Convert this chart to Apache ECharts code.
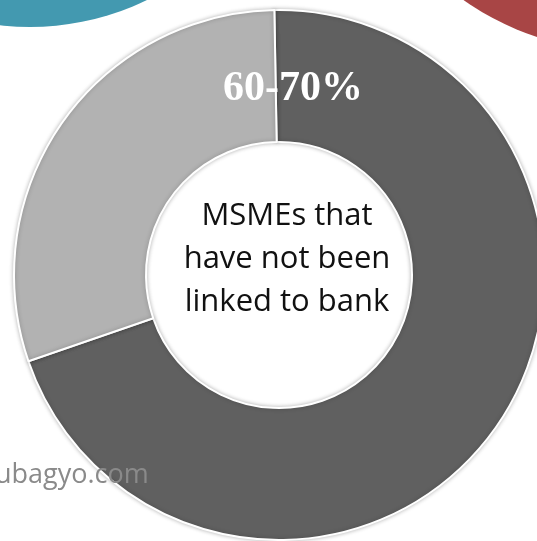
<!DOCTYPE html>
<html>
<head>
<meta charset="utf-8">
<script src="https://cdn.jsdelivr.net/npm/echarts@6/dist/echarts.min.js"></script>
<style>
  html, body { margin: 0; padding: 0; background: #ffffff; }
  #chart { width: 537px; height: 541px; }
</style>
</head>
<body>
<div id="chart"></div>
<script>
// Share of MSMEs by bank linkage
const categories = ['Not linked to bank', 'Linked to bank'];
const shares = [70, 30];
const sliceColors = ['#606060', '#b2b2b2'];
const rangeLabel = '60-70%';
const centerLines = ['MSMEs that', 'have not been', 'linked to bank'];
const footerText = 'ubagyo.com';

const chart = echarts.init(document.getElementById('chart'), null, { renderer: 'canvas' });

chart.setOption({
  animation: false,
  backgroundColor: '#ffffff',
  series: [{
    type: 'pie',
    center: [279, 275],
    radius: [133, 265],
    startAngle: 91,
    clockwise: true,
    silent: true,
    label: { show: false },
    labelLine: { show: false },
    itemStyle: {
      borderColor: '#ffffff',
      borderWidth: 2,
      shadowColor: 'rgba(0,0,0,0.25)',
      shadowBlur: 4
    },
    data: categories.map((name, i) => ({
      name: name,
      value: shares[i],
      itemStyle: { color: sliceColors[i] }
    }))
  }],
  graphic: [
    // decorative discs peeking in at the top corners
    { type: 'circle', z: -10, shape: { cx: 30, cy: -240, r: 267 }, style: { fill: '#4399b0' } },
    { type: 'circle', z: -10, shape: { cx: 620, cy: -220, r: 270 }, style: { fill: '#a84545' } },
    {
      type: 'text', z: 100, x: 293, y: 89,
      style: {
        text: rangeLabel,
        font: 'bold 42px "Liberation Serif", "Times New Roman", serif',
        fill: '#ffffff',
        align: 'center',
        verticalAlign: 'middle'
      }
    },
    {
      type: 'text', z: 100, x: 287, y: 259,
      style: {
        text: centerLines.join('\n'),
        font: '31px "Open Sans", sans-serif',
        lineHeight: 43,
        fill: '#111111',
        align: 'center',
        verticalAlign: 'middle'
      }
    },
    {
      type: 'text', z: 100, x: -5, y: 475,
      style: {
        text: footerText,
        font: '27px "Open Sans", sans-serif',
        fill: '#8a8a8a',
        align: 'left',
        verticalAlign: 'middle'
      }
    }
  ]
});
</script>
</body>
</html>
